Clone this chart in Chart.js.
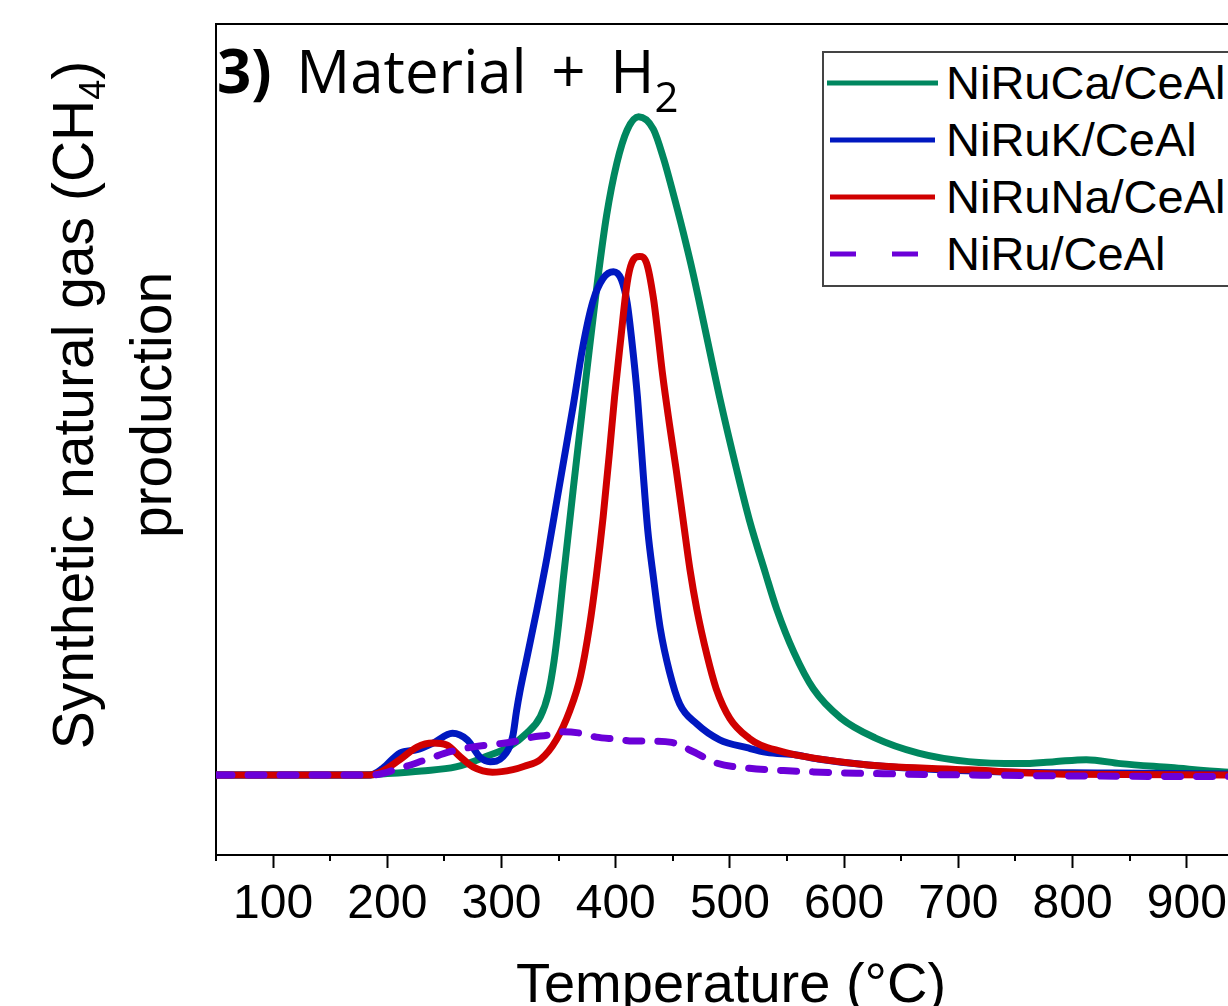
<!DOCTYPE html>
<html>
<head>
<meta charset="utf-8">
<script src="https://cdn.jsdelivr.net/npm/chart.js@4.4.1/dist/chart.umd.min.js"></script>
<style>
  html, body { margin: 0; padding: 0; background: #fff; overflow: hidden; }
  body { width: 1228px; height: 1006px; position: relative; font-family: 'Liberation Sans', Arial, sans-serif; }
  #wrap { position: absolute; left: 0; top: 0; width: 1302px; height: 1006px; }
  #title { position: absolute; left: 217px; top: 40px; font-family: 'Open Sans', sans-serif; font-size: 60px; line-height: 60px; white-space: nowrap; word-spacing: 9px; }
  #title sub { font-size: 42px; vertical-align: -19px; line-height: 0; }
  #legend { position: absolute; left: 822px; top: 51px; width: 440px; height: 236px; box-sizing: border-box; border: 2px solid #444; background: #fff; padding-top: 1px; }
  #legend .row { height: 57px; display: flex; align-items: center; white-space: nowrap; }
  #legend svg { margin-left: 1px; flex: none; }
  #legend span { margin-left: 6px; font-size: 47px; }
  #xtitle { position: absolute; left: 331px; width: 800px; top: 955px; text-align: center; font-size: 56px; line-height: 56px; white-space: nowrap; }
  #ytitle { position: absolute; left: -338px; top: 327px; width: 900px; height: 156px; line-height: 78px; text-align: center; font-size: 57px; transform: rotate(-90deg); white-space: nowrap; }
  #ytitle sub { font-size: 36px; vertical-align: -12px; line-height: 0; }
</style>
</head>
<body>
<div id="wrap"><canvas id="chart" width="1302" height="1006"></canvas></div>
<div id="title"><b>3)</b> Material + H<sub>2</sub></div>
<div id="legend"></div>
<div id="xtitle">Temperature (°C)</div>
<div id="ytitle">Synthetic natural gas (CH<sub>4</sub>)<br>production</div>
<script>
// x tick values
const xMajorTicks = [100, 200, 300, 400, 500, 600, 700, 800, 900];
const xMinorTicks = [50, 150, 250, 350, 450, 550, 650, 750, 850, 950];

const seriesNames = ['NiRuCa/CeAl', 'NiRuK/CeAl', 'NiRuNa/CeAl', 'NiRu/CeAl'];
const seriesColors = ['#00875f', '#0018c0', '#d00000', '#6b00d8'];

// NiRuCa/CeAl
const caTemp = [50, 180, 200, 230, 260, 287, 307, 322, 334, 341, 346, 350, 354, 363, 370, 375, 384, 392, 401, 410, 420, 433, 442, 450, 459, 468, 478, 491, 506, 517, 531, 541, 556, 573, 597, 627, 665, 709, 754, 784, 812, 842, 886, 933, 1000];
const caVal = [0, 0, 0.2, 0.6, 1.2, 2.8, 4.3, 6.3, 8.8, 12.3, 17.2, 22.8, 29.5, 43.5, 54, 61.5, 74.5, 84.5, 92.4, 97.4, 99.4, 97.5, 93, 88, 82, 75.5, 67.5, 57, 46, 38.5, 30.5, 25, 18.5, 13, 8.6, 5.6, 3.3, 2.0, 1.7, 2.0, 2.3, 1.7, 1.1, 0.45, 0.2];

// NiRuK/CeAl
const kTemp = [50, 185, 196, 211, 226, 240, 257, 270, 281, 290, 301, 310, 313, 316, 322, 331, 340, 349, 357, 363, 371, 380, 389, 398, 405, 410, 414, 419, 424, 428, 433, 439, 447, 456, 471, 491, 515, 532, 558, 577, 621, 680, 739, 827, 933, 1000];
const kVal = [0, 0, 1.0, 3.3, 3.8, 4.8, 6.3, 5.3, 2.7, 2.0, 2.7, 6.0, 9.5, 12.5, 17.5, 25, 33, 42, 50, 56, 64.5, 71.5, 75, 76, 74.8, 71.3, 65.7, 57.1, 45.6, 37, 29.8, 22.1, 15.6, 10.7, 7.7, 5.3, 4.1, 3.4, 3.0, 2.4, 1.5, 0.8, 0.45, 0.3, 0.15, 0.1];

// NiRuNa/CeAl
const naTemp = [50, 185, 194, 211, 226, 240, 252, 264, 275, 292, 310, 320, 334, 348, 360, 369, 377, 383, 389, 395, 399, 404, 410, 414, 421, 427, 433, 437, 441, 447, 453, 459, 465, 471, 480, 488, 500, 517, 527, 544, 561, 621, 709, 798, 933, 1000];
const naVal = [0, 0, 0.4, 2.3, 4.2, 4.8, 4.5, 2.7, 1.2, 0.4, 0.8, 1.3, 2.3, 5.3, 9.8, 14.8, 22.4, 30, 39, 49.6, 57.1, 65.2, 74.3, 77.3, 78.3, 77.3, 72, 66.5, 60.5, 53, 46, 38.5, 31, 25, 18, 13, 8.5, 5.5, 4.5, 3.6, 2.9, 1.5, 0.76, 0.1, 0, 0];

// NiRu/CeAl
const ruTemp = [50, 187, 211, 234, 255, 278, 293, 310, 327, 340, 354, 369, 383, 401, 415, 432, 449, 468, 488, 517, 547, 573, 611, 643, 700, 795, 917, 1000];
const ruVal = [0, 0, 1.0, 2.3, 3.5, 4.3, 4.6, 5.0, 5.7, 6.0, 6.5, 6.3, 5.7, 5.4, 5.1, 5.1, 4.9, 3.5, 1.8, 1.0, 0.65, 0.45, 0.25, 0.15, 0, -0.15, -0.25, -0.25];

const toPoints = (xs, ys) => xs.map((x, i) => ({ x: x, y: ys[i] }));

const seriesData = [
  toPoints(caTemp, caVal),
  toPoints(kTemp, kVal),
  toPoints(naTemp, naVal),
  toPoints(ruTemp, ruVal)
];
// NiRu drawn on top, then Na, K, Ca
const drawOrder = [3, 2, 1, 0];

const datasets = seriesNames.map((name, i) => ({
  label: name,
  data: seriesData[i],
  borderColor: seriesColors[i],
  borderWidth: 7,
  borderDash: i === 3 ? [16, 16] : [],
  borderCapStyle: i === 3 ? 'round' : 'butt',
  pointRadius: 0,
  fill: false,
  cubicInterpolationMode: 'monotone',
  order: drawOrder[i]
}));

// top frame line and short minor ticks on the x axis
const framePlugin = {
  id: 'frame',
  afterDraw(chart) {
    const { ctx, chartArea, scales } = chart;
    ctx.save();
    ctx.strokeStyle = '#000';
    ctx.lineWidth = 2;
    ctx.beginPath();
    ctx.moveTo(chartArea.left - 1, chartArea.top);
    ctx.lineTo(chartArea.right, chartArea.top);
    xMinorTicks.forEach(v => {
      const px = Math.round(scales.x.getPixelForValue(v));
      ctx.moveTo(px, chartArea.bottom);
      ctx.lineTo(px, chartArea.bottom + 6);
    });
    ctx.stroke();
    ctx.restore();
  }
};

const tickFont = { family: "'Liberation Sans', Arial, sans-serif", size: 48 };

new Chart(document.getElementById('chart'), {
  type: 'line',
  data: { datasets: datasets },
  options: {
    responsive: false,
    animation: false,
    layout: { padding: { left: 216, top: 24, right: 1, bottom: 0 } },
    plugins: { legend: { display: false }, tooltip: { enabled: false } },
    scales: {
      x: {
        type: 'linear',
        min: 50,
        max: 1000,
        afterBuildTicks: scale => { scale.ticks = xMajorTicks.map(v => ({ value: v })); },
        afterFit: scale => { scale.height = 151; },
        grid: { drawOnChartArea: false, drawTicks: true, tickLength: 13, tickWidth: 2, tickColor: '#000' },
        border: { display: true, color: '#000', width: 2 },
        ticks: { padding: 8, color: '#000', font: tickFont, maxRotation: 0, autoSkip: false }
      },
      y: {
        min: -12.1,
        max: 113.4,
        afterFit: scale => { scale.width = 0; },
        ticks: { display: false },
        grid: { display: true, drawOnChartArea: false, drawTicks: false },
        border: { display: true, color: '#000', width: 2 }
      }
    }
  },
  plugins: [framePlugin]
});

// legend box built from the series arrays
const legend = document.getElementById('legend');
const legendOrder = [0, 1, 2, 3];
legendOrder.forEach(i => {
  const row = document.createElement('div');
  row.className = 'row';
  const dash = i === 3 ? ' stroke-dasharray="26 36"' : '';
  const x1 = i === 0 ? 2 : 5;
  const x2 = i === 0 ? 113 : (i === 3 ? 93 : 110);
  row.innerHTML = '<svg width="115" height="10"><line x1="' + x1 + '" y1="5" x2="' + x2 + '" y2="5" stroke="' +
    seriesColors[i] + '" stroke-width="5"' + dash + '/></svg><span>' + seriesNames[i] + '</span>';
  legend.appendChild(row);
});
</script>
</body>
</html>
